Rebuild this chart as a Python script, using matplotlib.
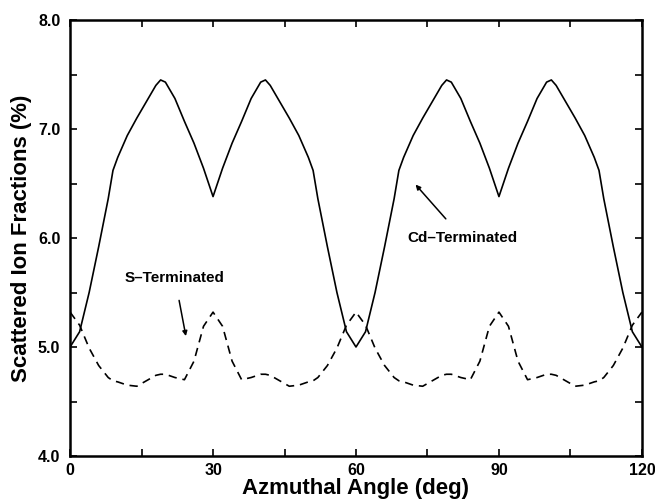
import matplotlib
matplotlib.use('Agg')
import matplotlib.pyplot as plt
from matplotlib.ticker import MultipleLocator

plt.rcParams['font.family'] = ['Liberation Sans', 'DejaVu Sans']
plt.rcParams['font.weight'] = 'bold'

# Azimuthal angle (deg)
angle = [0, 2, 4, 6, 8, 9, 10, 12, 14, 16, 18, 19, 20, 22, 24, 26, 28, 30,
         32, 34, 36, 38, 40, 41, 42, 44, 46, 48, 50, 51, 52, 54, 56, 58, 60,
         62, 64, 66, 68, 69, 70, 72, 74, 76, 78, 79, 80, 82, 84, 86, 88, 90,
         92, 94, 96, 98, 100, 101, 102, 104, 106, 108, 110, 111, 112, 114, 116, 118, 120]

# Cd-terminated surface (solid)
cd_term = [5.00, 5.14, 5.50, 5.92, 6.36, 6.62, 6.74, 6.94, 7.10, 7.25, 7.40, 7.45, 7.43, 7.28, 7.07, 6.87, 6.64, 6.38,
           6.64, 6.87, 7.07, 7.28, 7.43, 7.45, 7.40, 7.25, 7.10, 6.94, 6.74, 6.62, 6.36, 5.92, 5.50, 5.14, 5.00,
           5.14, 5.50, 5.92, 6.36, 6.62, 6.74, 6.94, 7.10, 7.25, 7.40, 7.45, 7.43, 7.28, 7.07, 6.87, 6.64, 6.38,
           6.64, 6.87, 7.07, 7.28, 7.43, 7.45, 7.40, 7.25, 7.10, 6.94, 6.74, 6.62, 6.36, 5.92, 5.50, 5.14, 5.00]

# S-terminated surface (dashed)
s_term = [5.32, 5.20, 4.99, 4.83, 4.72, 4.69, 4.68, 4.65, 4.64, 4.69, 4.74, 4.75, 4.75, 4.72, 4.70, 4.87, 5.19, 5.32,
          5.19, 4.87, 4.70, 4.72, 4.75, 4.75, 4.74, 4.69, 4.64, 4.65, 4.68, 4.69, 4.72, 4.83, 4.99, 5.20, 5.32,
          5.20, 4.99, 4.83, 4.72, 4.69, 4.68, 4.65, 4.64, 4.69, 4.74, 4.75, 4.75, 4.72, 4.70, 4.87, 5.19, 5.32,
          5.19, 4.87, 4.70, 4.72, 4.75, 4.75, 4.74, 4.69, 4.64, 4.65, 4.68, 4.69, 4.72, 4.83, 4.99, 5.20, 5.32]

fig = plt.figure(figsize=(6.55, 5.0), dpi=100)
ax = fig.add_axes([0.107, 0.088, 0.873, 0.872])

ax.plot(angle, cd_term, color='black', linewidth=1.2)
ax.plot(angle, s_term, color='black', linewidth=1.2, linestyle=(0, (5, 3.5)))

ax.set_xlim(0, 120)
ax.set_ylim(4.0, 8.0)
ax.xaxis.set_major_locator(MultipleLocator(30))
ax.xaxis.set_minor_locator(MultipleLocator(15))
ax.yaxis.set_major_locator(MultipleLocator(1.0))
ax.yaxis.set_minor_locator(MultipleLocator(0.5))
ax.yaxis.set_major_formatter(matplotlib.ticker.FormatStrFormatter('%.1f'))

ax.tick_params(which='both', direction='in', top=True, right=True, length=5, width=1.2)
ax.tick_params(axis='x', which='major', pad=5, labelsize=11.5)
ax.tick_params(axis='y', which='major', pad=7, labelsize=11.5)
for sp in ax.spines.values():
    sp.set_linewidth(1.8)

ax.set_xlabel('Azmuthal Angle (deg)', fontsize=16, fontweight='bold', labelpad=0)
ax.set_ylabel('Scattered Ion Fractions (%)', fontsize=16, fontweight='bold', labelpad=4)

# annotations
ax.annotate('S\u2013Terminated', xy=(24.3, 5.10), xytext=(22.0, 5.63),
            fontsize=11, fontweight='bold', ha='center', va='center',
            arrowprops=dict(arrowstyle='-|>', color='black', lw=1.1, mutation_scale=7,
                            shrinkA=9, shrinkB=0))
ax.annotate('Cd\u2013Terminated', xy=(72.5, 6.49), xytext=(82.4, 6.0),
            fontsize=11, fontweight='bold', ha='center', va='center',
            arrowprops=dict(arrowstyle='-|>', color='black', lw=1.1, mutation_scale=7,
                            shrinkA=9, shrinkB=0))

fig.savefig('out.png', dpi=100)
